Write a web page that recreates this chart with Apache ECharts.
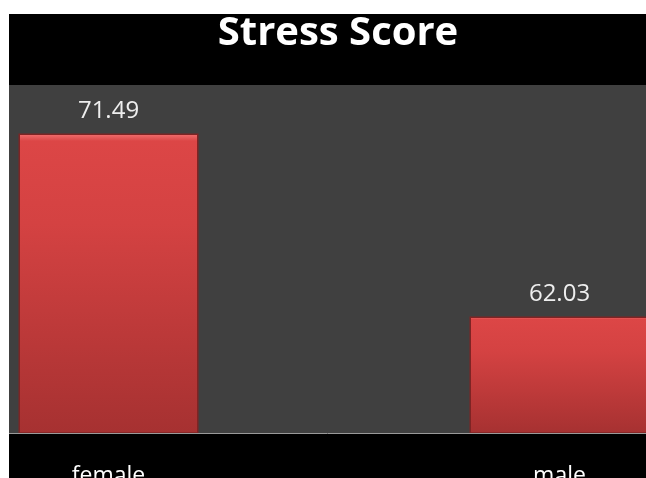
<!DOCTYPE html>
<html><head><meta charset="utf-8">
<script src="https://cdn.jsdelivr.net/npm/echarts@6/dist/echarts.min.js"></script>
<style>html,body{margin:0;padding:0;background:#fff}#c{width:646px;height:478px}</style>
</head><body><div id="c"></div>
<script>
const categories = ['female', 'male'];
const values = [71.49, 62.03];
const titleText = 'Stress Score';

const chart = echarts.init(document.getElementById('c'));
chart.setOption({
  backgroundColor: '#000',
  animation: false,
  title: {
    text: titleText, left: 333, top: 9, textAlign: 'center',
    textStyle: {color: '#fff', fontFamily: 'Open Sans', fontWeight: 'bold', fontSize: 40}
  },
  grid: {left: -117, width: 902, top: 85, bottom: 45, outerBoundsMode: 'none', containLabel: false},
  xAxis: {
    type: 'category', data: categories,
    axisLine: {show: false}, axisTick: {show: false},
    axisLabel: {color: '#fff', fontSize: 23, fontFamily: 'Open Sans', margin: 32}
  },
  yAxis: {type: 'value', min: 56, max: 74, show: false, splitLine: {show: false}},
  graphic: [
    {type: 'rect', shape: {x: 9, y: 85, width: 640, height: 348}, style: {fill: '#404040'}, z: -10},
    {type: 'line', shape: {x1: 9, y1: 433.5, x2: 646, y2: 433.5}, style: {stroke: '#9a9a9a', lineWidth: 1}, z: 50},
    {type: 'rect', shape: {x: 0, y: 0, width: 9, height: 478}, style: {fill: '#fff'}, z: 100},
    {type: 'rect', shape: {x: 0, y: 0, width: 646, height: 14}, style: {fill: '#fff'}, z: 100}
  ],
  series: [{
    type: 'bar', data: values, barWidth: 180,
    itemStyle: {
      color: {type: 'linear', x: 0, y: 0, x2: 0, y2: 1, colorStops: [
        {offset: 0, color: '#f27272'}, {offset: 0.025, color: '#dc4646'},
        {offset: 0.3, color: '#d44242'}, {offset: 1, color: '#a63131'}
      ]},
      borderColor: '#7e2424', borderWidth: 1.5
    },
    label: {show: true, position: 'top', distance: 10, color: '#eeeeee', fontSize: 24, fontFamily: 'Open Sans',
      formatter: p => p.value.toFixed(2)}
  }]
});
</script></body></html>
